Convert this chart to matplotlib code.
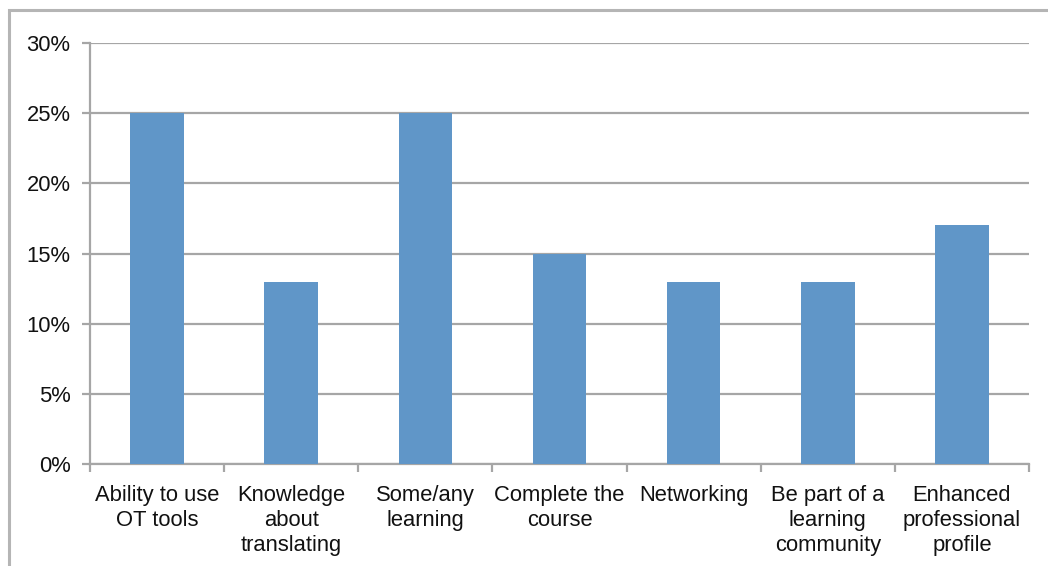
import matplotlib
matplotlib.use("Agg")
import matplotlib.pyplot as plt
from matplotlib.patches import Rectangle
from matplotlib.ticker import FixedLocator, FuncFormatter
import numpy as np

categories = ["Ability to use\nOT tools", "Knowledge\nabout\ntranslating", "Some/any\nlearning",
              "Complete the\ncourse", "Networking", "Be part of a\nlearning\ncommunity",
              "Enhanced\nprofessional\nprofile"]
values = [25, 13, 25, 15, 13, 13, 17]
yticks = [0, 5, 10, 15, 20, 25, 30]

plt.rcParams['font.family'] = ['Liberation Sans', 'DejaVu Sans']
W, H = 1048, 566
fig = plt.figure(figsize=(W/100, H/100), dpi=100)
ax = fig.add_axes([90/W, 1-464/H, (1029-90)/W, (464-43)/H])

gray = '#a6a6a6'
x = np.arange(len(categories))
ax.bar(x, values, width=0.40, color='#6096C8', zorder=3)
ax.set_xlim(-0.5, len(categories)-0.5)
ax.set_ylim(0, 30)
ax.set_yticks(yticks)
ax.yaxis.set_major_formatter(FuncFormatter(lambda v, p: f"{int(v)}%"))
ax.yaxis.grid(True, color=gray, linewidth=1.6, zorder=0)
ax.set_axisbelow(True)

ax.set_xticks(x)
ax.set_xticklabels(categories, fontsize=15.8, linespacing=1.27, color='#111111')
ax.xaxis.set_minor_locator(FixedLocator(np.arange(-0.5, len(categories), 1.0)))
ax.tick_params(axis='x', which='major', length=0, pad=15)
ax.tick_params(axis='x', which='minor', length=6, width=1.6, color=gray, direction='out')
ax.tick_params(axis='y', length=6, width=1.6, color=gray, labelsize=15.8, pad=8, labelcolor='#111111')

for s in ['top', 'right']:
    ax.spines[s].set_visible(False)
for s in ['left', 'bottom']:
    ax.spines[s].set_color(gray)
    ax.spines[s].set_linewidth(1.6)

frame = Rectangle((9/W, -0.2), 1.2, 1-10/H+0.2, transform=fig.transFigure,
                  fill=False, edgecolor='#b5b5b5', linewidth=2.2, clip_on=False)
fig.patches.append(frame)

fig.savefig("out.png", dpi=100)
